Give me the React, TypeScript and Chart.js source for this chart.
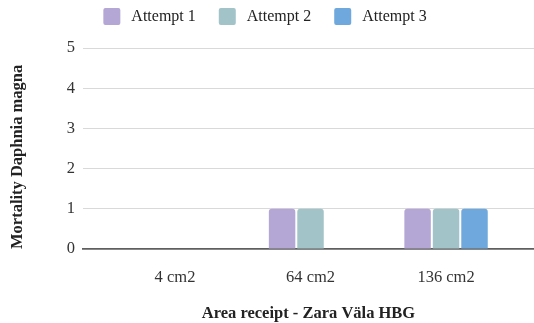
import { useEffect, useRef } from 'react';
import { Chart, registerables } from 'chart.js';

Chart.register(...registerables);

// Mortality counts per receipt area, one series per attempt
const categories = ['4 cm2', '64 cm2', '136 cm2'];
const seriesNames = ['Attempt 1', 'Attempt 2', 'Attempt 3'];
const attempt1 = [0, 1, 1];
const attempt2 = [0, 1, 1];
const attempt3 = [0, 0, 1];
const seriesColors = ['#b4a7d6', '#a2c4c9', '#6fa8dc'];
const yMin = 0;
const yMax = 5;
const yStep = 1;

const xTitle = 'Area receipt - Zara Väla HBG';
const yTitle = 'Mortality Daphnia magna';

const FONT = '"Liberation Serif", "Times New Roman", serif';

// Legend row drawn above the plot: square swatch, label, then the next item
const topLegend = {
  id: 'topLegend',
  afterDraw(chart: any) {
    const ctx = chart.ctx as CanvasRenderingContext2D;
    ctx.save();
    ctx.font = `16px ${FONT}`;
    const box = 17;
    const gapText = 11;
    const gapItem = 23;
    const items = chart.data.datasets.map((ds: any) => ({
      label: ds.label as string,
      color: ds.backgroundColor as string,
      w: ctx.measureText(ds.label).width,
    }));
    const total =
      items.reduce((s: number, it: any) => s + box + gapText + it.w, 0) +
      gapItem * (items.length - 1);
    let x = chart.width / 2 - 2 - total / 2;
    const cy = 16.5;
    ctx.textBaseline = 'middle';
    ctx.textAlign = 'left';
    for (const it of items) {
      ctx.fillStyle = it.color;
      ctx.beginPath();
      ctx.roundRect(x, cy - box / 2, box, box, 2);
      ctx.fill();
      ctx.fillStyle = '#222';
      ctx.fillText(it.label, x + box + gapText, cy);
      x += box + gapText + it.w + gapItem;
    }
    ctx.restore();
  },
};

export default function App() {
  const ref = useRef<HTMLCanvasElement>(null);

  useEffect(() => {
    if (!ref.current) return;
    Chart.defaults.font.family = FONT;
    const series = [attempt1, attempt2, attempt3];
    const chart = new Chart(ref.current, {
      type: 'bar',
      data: {
        datasets: series.map((values, s) => ({
          label: seriesNames[s],
          data: values.map((y, i) => ({ x: i, y })),
          backgroundColor: seriesColors[s],
          borderWidth: 0,
          borderRadius: { topLeft: 3, topRight: 3, bottomLeft: 0, bottomRight: 0 },
          borderSkipped: 'start',
          categoryPercentage: 0.63,
          barPercentage: 0.93,
        })),
      },
      options: {
        animation: false,
        responsive: true,
        maintainAspectRatio: false,
        events: [],
        layout: { padding: { top: 48, left: 0, right: 0, bottom: 0 } },
        plugins: {
          legend: { display: false },
          tooltip: { enabled: false },
        },
        scales: {
          x: {
            type: 'linear',
            offset: false,
            min: -0.679,
            max: 2.649,
            afterBuildTicks: (scale: any) => {
              scale.ticks = categories.map((_, i) => ({ value: i }));
            },
            afterFit: (scale: any) => {
              scale.height = 74;
            },
            ticks: {
              callback: (v: any) => categories[v] ?? '',
              font: { size: 16.5 },
              color: '#333',
              padding: 11,
              maxRotation: 0,
              autoSkip: false,
            },
            grid: { display: false },
            border: { display: true, color: '#5f5f5f', width: 1.8 },
            title: {
              display: true,
              text: xTitle,
              color: '#222',
              font: { size: 16.5, weight: 'bold', lineHeight: 1.1 },
              padding: { top: 0, bottom: 0 },
            },
          },
          y: {
            min: yMin,
            max: yMax,
            afterFit: (scale: any) => {
              scale.width = 83;
            },
            ticks: {
              stepSize: yStep,
              font: { size: 16.5 },
              color: '#333',
              padding: 8,
            },
            grid: {
              color: (c: any) => (c.tick && c.tick.value === 0 ? 'rgba(0,0,0,0)' : '#d9d9d9'),
              drawTicks: false,
            },
            border: { display: false },
            title: {
              display: true,
              text: yTitle,
              align: 'start',
              color: '#222',
              font: { size: 16.5, weight: 'bold' },
              padding: { top: 8, bottom: 0 },
            },
          },
        },
      },
      plugins: [topLegend],
    } as any);
    return () => chart.destroy();
  }, []);

  return (
    <div style={{ position: 'fixed', left: 0, top: 0, width: 534, height: 323, background: '#fff' }}>
      <canvas ref={ref} />
    </div>
  );
}
